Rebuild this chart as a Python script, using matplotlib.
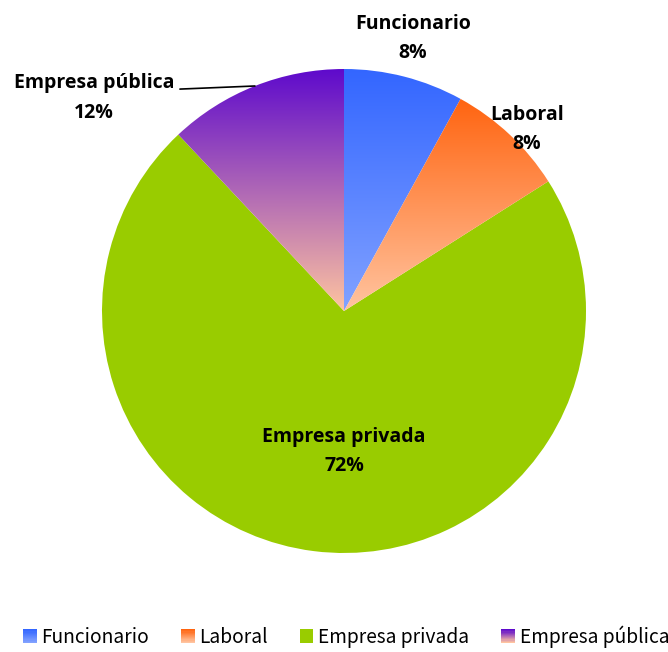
import numpy as np
import matplotlib
matplotlib.use("Agg")
import matplotlib.pyplot as plt
from matplotlib.colors import LinearSegmentedColormap
from matplotlib.legend_handler import HandlerPatch
from matplotlib.patches import Rectangle, Patch

# data
categories = ["Funcionario", "Laboral", "Empresa privada", "Empresa pública"]
shares = [8, 8, 72, 12]
pct_labels = ["8%", "8%", "72%", "12%"]

# slice fills: gradient from top colour to bottom colour
top_colors = ["#3366FF", "#FF6410", "#99CC00", "#5E0ACC"]
bottom_colors = ["#82A2FF", "#FFC4A0", "#99CC00", "#FFC4A0"]

# label centres in data units (pie radius = 1)
label_pos = [(0.285, 1.126), (0.756, 0.75), (0.0, -0.58), (-1.033, 0.88)]


class GradientHandler(HandlerPatch):
    """Legend square filled with a vertical gradient made of thin strips."""

    def __init__(self, top, bottom, n=12):
        super().__init__()
        self.top = top
        self.bottom = bottom
        self.n = n

    def create_artists(self, legend, orig_handle, xdescent, ydescent,
                       width, height, fontsize, trans):
        cmap = LinearSegmentedColormap.from_list("g", [self.top, self.bottom])
        side = min(width, height)
        x0 = -xdescent + (width - side)
        y0 = -ydescent + (height - side) / 2
        strips = []
        for i in range(self.n):
            h = side / self.n
            r = Rectangle((x0, y0 + side - (i + 1) * h), side, h * 1.05,
                          facecolor=cmap(i / (self.n - 1)), edgecolor="none",
                          transform=trans)
            strips.append(r)
        return strips


W, H = 668, 652
fig = plt.figure(figsize=(W / 100, H / 100), dpi=100)
cx, cy, R = 344, 311, 242
ax = fig.add_axes([(cx - R) / W, (H - cy - R) / H, 2 * R / W, 2 * R / H])

wedges, _ = ax.pie(shares, startangle=90, counterclock=False, radius=1,
                   center=(0, 0), colors=top_colors,
                   wedgeprops=dict(linewidth=0))

for w, c_top, c_bot in zip(wedges, top_colors, bottom_colors):
    if c_top == c_bot:
        continue
    # vertical extent of the wedge
    th = np.radians(np.linspace(w.theta1, w.theta2, 200))
    xs = np.concatenate([[0], w.r * np.cos(th)])
    ys = np.concatenate([[0], w.r * np.sin(th)])
    cmap = LinearSegmentedColormap.from_list("g", [c_top, c_bot])
    grad = np.linspace(0, 1, 256).reshape(-1, 1)
    im = ax.imshow(grad, cmap=cmap, aspect="auto", origin="upper",
                   extent=(xs.min(), xs.max(), ys.min(), ys.max()),
                   interpolation="bilinear", zorder=w.get_zorder() + 0.1)
    im.set_clip_path(w)
    w.set_facecolor("none")

ax.set_xlim(-1, 1)
ax.set_ylim(-1, 1)
ax.set_aspect("equal")
ax.axis("off")

label_font = dict(family=["Open Sans", "DejaVu Sans"], fontweight="bold",
                  fontsize=14)
for cat, pct, (lx, ly) in zip(categories, pct_labels, label_pos):
    ax.text(lx, ly, f"{cat}\n{pct}", ha="center", va="center",
            linespacing=1.62, clip_on=False, zorder=10, **label_font)

# leader line for Empresa pública
w_pub = wedges[3]
mid = np.radians((w_pub.theta1 + w_pub.theta2) / 2)
ax.annotate("", xy=(np.cos(mid), np.sin(mid)), xytext=(-0.678, 0.917),
            arrowprops=dict(arrowstyle="-", lw=1.2, color="black",
                            shrinkA=0, shrinkB=0), annotation_clip=False)

handles = [Patch(facecolor=c) for c in top_colors]
handler_map = {h: GradientHandler(t, b) for h, t, b in
               zip(handles, top_colors, bottom_colors)}
fig.legend(handles, categories, handler_map=handler_map,
           loc="lower center", bbox_to_anchor=(346 / W, -0.02), ncol=4,
           frameon=False, handlelength=0.72, handleheight=0.72,
           handletextpad=0.25, columnspacing=1.65,
           prop=dict(family=["Noto Sans CJK KR", "DejaVu Sans"], size=13.8))

fig.savefig("out.png", dpi=100)
